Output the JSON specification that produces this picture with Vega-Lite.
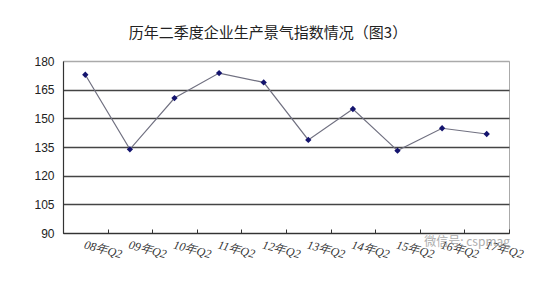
{
  "$schema": "https://vega.github.io/schema/vega-lite/v6.json",
  "width": 446,
  "height": 172,
  "autosize": {"type": "none"},
  "padding": {"left": 63, "top": 61, "right": 40, "bottom": 61},
  "background": "white",
  "title": {
    "text": "历年二季度企业生产景气指数情况（图3）",
    "font": "Noto Sans CJK SC",
    "fontSize": 15,
    "fontWeight": "normal",
    "color": "#222",
    "anchor": "middle",
    "dx": -18,
    "offset": 14
  },
  "config": {
    "view": {"stroke": "#aaa", "strokeWidth": 1},
    "axis": {"domainColor": "#333", "domainWidth": 1.2}
  },
  "data": {
    "values": [
      {"quarter": "08年Q2", "index": 172.8},
      {"quarter": "09年Q2", "index": 133.8},
      {"quarter": "10年Q2", "index": 160.6},
      {"quarter": "11年Q2", "index": 173.7},
      {"quarter": "12年Q2", "index": 168.8},
      {"quarter": "13年Q2", "index": 138.7},
      {"quarter": "14年Q2", "index": 154.9},
      {"quarter": "15年Q2", "index": 133.1},
      {"quarter": "16年Q2", "index": 144.8},
      {"quarter": "17年Q2", "index": 141.8}
    ]
  },
  "encoding": {
    "x": {
      "field": "quarter",
      "type": "ordinal",
      "sort": null,
      "scale": {"paddingInner": 0, "paddingOuter": 0},
      "axis": {
        "title": null,
        "tickBand": "extent",
        "tickSize": -4,
        "tickColor": "#333",
        "labelAngle": 15,
        "labelAlign": "left",
        "labelBaseline": "top",
        "labelPadding": 10,
        "labelFont": "Liberation Serif",
        "labelFontStyle": "italic",
        "labelFontSize": 12,
        "labelColor": "#333",
        "grid": false
      }
    },
    "y": {
      "field": "index",
      "type": "quantitative",
      "scale": {"domain": [90, 180], "nice": false, "zero": false},
      "axis": {
        "title": null,
        "values": [90, 105, 120, 135, 150, 165, 180],
        "ticks": false,
        "labelPadding": 9,
        "labelFont": "Liberation Sans",
        "labelFontSize": 12,
        "labelColor": "#222",
        "grid": true,
        "gridColor": {"condition": {"test": "datum.value == 180", "value": "#aaa"}, "value": "#444"},
        "gridWidth": 1.3
      }
    }
  },
  "layer": [
    {"mark": {"type": "line", "color": "#707080", "strokeWidth": 1.2}},
    {"mark": {"type": "point", "shape": "diamond", "filled": true, "color": "#14146e", "size": 40, "opacity": 1}},
    {
      "data": {"values": [{"quarter": "16年Q2", "index": 85.3, "label": "微信号: cspmag"}]},
      "mark": {"type": "text", "font": "Noto Sans CJK SC", "fontSize": 12, "color": "#999", "opacity": 0.8, "align": "center", "dx": 25, "clip": false},
      "encoding": {"text": {"field": "label"}}
    }
  ]
}
